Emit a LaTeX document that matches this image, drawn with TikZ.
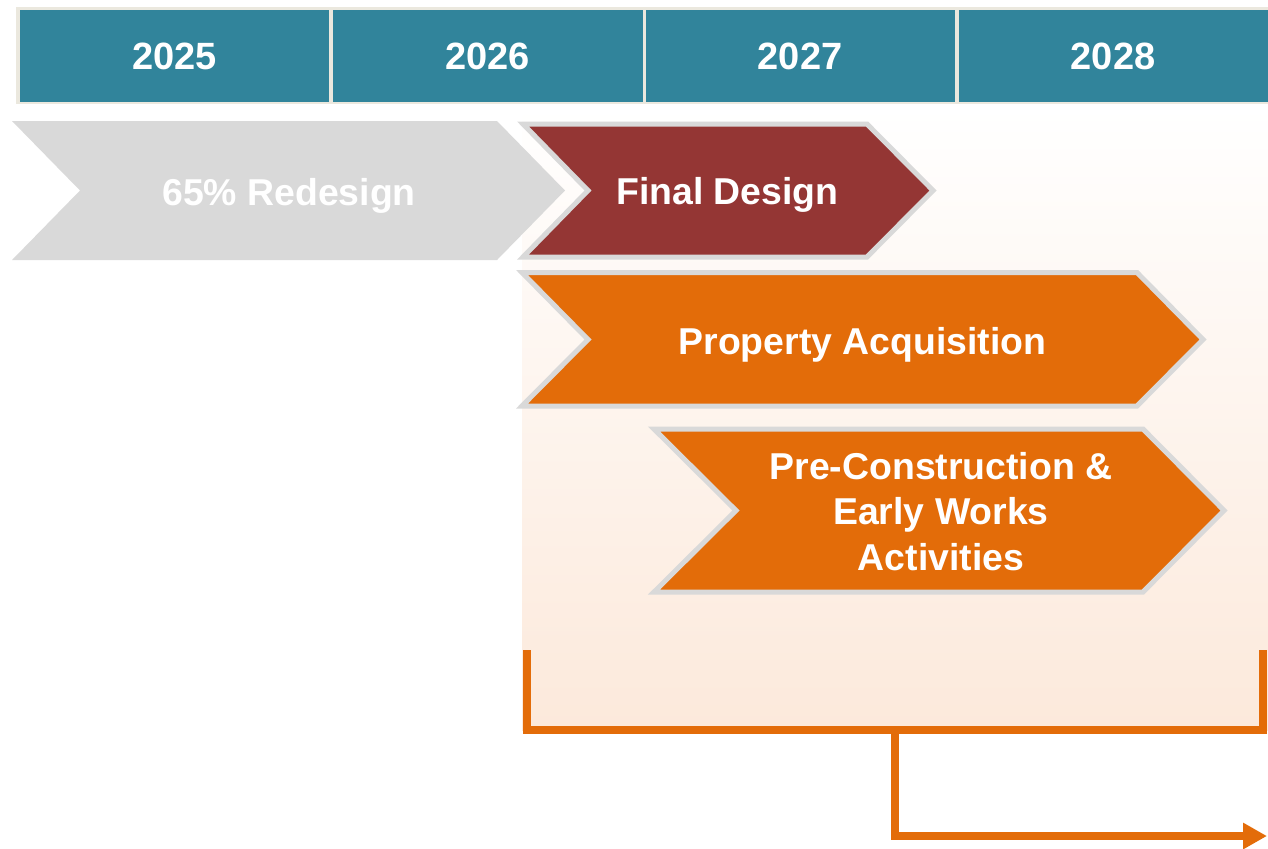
\documentclass[tikz,border=0pt]{standalone}
\usepackage{fontspec}
\setmainfont{Liberation Sans}
\usetikzlibrary{arrows.meta}
\definecolor{teal}{HTML}{31849B}
\definecolor{hdrline}{HTML}{EBE8DE}
\definecolor{chgray}{HTML}{D9D9D9}
\definecolor{chred}{HTML}{943634}
\definecolor{chorange}{HTML}{E36C09}
\definecolor{peach}{HTML}{FCE9DB}
\tikzset{
  yearcell/.style={draw=hdrline, line width=1pt, fill=teal, text=white, font=\bfseries\fontsize{19}{22}\selectfont, minimum height=47pt, inner sep=0pt, anchor=north west},
  chevbox/.style={draw=chgray, line width=2.5pt, line join=miter},
  chevtext/.style={text=white, font=\bfseries\fontsize{18.7}{22.7}\selectfont, align=center, inner sep=0pt},
  bracket/.style={draw=chorange, line width=4pt, line join=miter},
}
\begin{document}
\begin{tikzpicture}[x=0.5pt, y=-0.5pt]
\useasboundingbox (0,0) rectangle (1268,848);
% background gradient
\shade[top color=white, bottom color=peach] (522,106) rectangle (1268,730);
% header
\fill[hdrline] (16,7) rectangle (1268,104);
\node[yearcell, minimum width=155.5pt] (y25) at (18,8) {2025};
\node[yearcell, minimum width=156pt] (y26) at (330.5,8) {2026};
\node[yearcell, minimum width=155.5pt] (y27) at (643.5,8) {2027};
\node[yearcell, minimum width=155.5pt] (y28) at (956.5,8) {2028};
% chevron 1
\fill[chgray] (12,121) -- (497,121) -- (565,190.5) -- (497,260) -- (12,260) -- (80,190.5) -- cycle;
\node[chevtext, anchor=base] (redesign) at (289,205) {65\% Redesign};
% final design
\draw[chevbox, fill=chred] (523,124) -- (867,124) -- (933,190.5) -- (867,257) -- (523,257) -- (588,190.5) -- cycle;
\node[chevtext, anchor=base] (final) at (727.5,204) {Final Design};
% property acquisition
\draw[chevbox, fill=chorange] (522,272.5) -- (1137,272.5) -- (1203,339.5) -- (1137,406) -- (522,406) -- (588,339.5) -- cycle;
\node[chevtext, anchor=base] (prop) at (862.5,354) {Property Acquisition};
% pre-construction
\draw[chevbox, fill=chorange] (654,429) -- (1143,429) -- (1224,510.5) -- (1143,592) -- (654,592) -- (736,510.5) -- cycle;
\node[chevtext, anchor=base] (precon) at (941,570) {Pre-Construction \&\\Early Works\\Activities};
% bracket
\coordinate (bl) at (526.5,650);
\coordinate (br) at (1263,650);
\coordinate (bm) at (895,729.5);
\coordinate (ac) at (895,836);
\coordinate (tip) at (1267,836);
\draw[bracket] (bl) |- (bm) -| (br);
\draw[bracket, -{Triangle[length=12pt,width=12.5pt]}] (bm) -- (ac) -- (tip);
\end{tikzpicture}
\end{document}
